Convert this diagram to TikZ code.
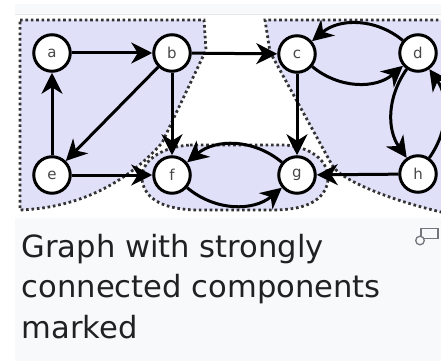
\documentclass[tikz,border=0pt]{standalone}
\usepackage{fontspec}
\setmainfont{DejaVu Sans}
\usetikzlibrary{arrows.meta}
\definecolor{scc}{RGB}{224,224,248}
\definecolor{pagebg}{RGB}{248,249,250}
\definecolor{captxt}{RGB}{32,33,34}
\definecolor{topline}{RGB}{230,232,236}
\definecolor{iconc}{RGB}{114,119,125}
\begin{document}
\begin{tikzpicture}[x=1pt,y=-1pt,
  vtx/.style={circle,draw=black,line width=3pt,fill=white,minimum size=36.5pt,inner sep=0pt,font=\fontsize{15}{15}\selectfont,text=black!72},
  edge/.style={line width=3pt,-{Stealth[length=21pt,width=21pt,inset=6.5pt]}},
  region/.style={fill=scc},
  border/.style={line width=2.8pt,dash pattern=on 2.6pt off 2.8pt,draw=black!80},
  captext/.style={anchor=base west,inner sep=0pt,text=captxt,font=\fontsize{30.6}{40}\selectfont}]
\useasboundingbox (0,0) rectangle (441,361);
\fill[white] (0,0) rectangle (441,361);
\fill[pagebg] (15,4) rectangle (441,361);
\fill[white] (15,15) rectangle (441,218);
\draw[topline,line width=1pt] (15,14.5) -- (441,14.5);
% SCC regions
\path[region] (20,20) -- (204,20) -- (206,50) -- (162,143) .. controls (120,190) and (70,208) .. (20,210) -- cycle;
\path[region] (265,20) -- (460,20) -- (460,214) -- (441,212) .. controls (390,200) and (340,180) .. (332,165) -- (270,52) -- cycle;
\path[region] (190,145) -- (285,145) .. controls (320,148) and (335,170) .. (325,190) .. controls (315,208) and (290,210) .. (270,210) -- (200,210) .. controls (165,210) and (145,200) .. (142,180) .. controls (140,162) and (160,147) .. (190,145) -- cycle;
\draw[border] (20,20) -- (204,20) -- (206,50) -- (162,143) .. controls (120,190) and (70,208) .. (20,210) -- cycle;
\draw[border] (460,20) -- (265,20) -- (270,52) -- (332,165) .. controls (340,180) and (390,200) .. (441,212) -- (460,214);
\draw[border] (190,145) -- (285,145) .. controls (320,148) and (335,170) .. (325,190) .. controls (315,208) and (290,210) .. (270,210) -- (200,210) .. controls (165,210) and (145,200) .. (142,180) .. controls (140,162) and (160,147) .. (190,145) -- cycle;
% vertices
\node[vtx] (a) at (52,53) {a};
\node[vtx] (b) at (172,53) {b};
\node[vtx] (c) at (297,54) {c};
\node[vtx] (d) at (418,53) {d};
\node[vtx] (e) at (52,175) {e};
\node[vtx] (f) at (172,175) {f};
\node[vtx] (g) at (297,175) {g};
\node[vtx] (h) at (418,174) {h};
% edges
\draw[edge] (a) -- (b);
\draw[edge] (b) -- (c);
\draw[edge] (b) -- (e);
\draw[edge] (b) -- (f);
\draw[edge] (e) -- (a);
\draw[edge] (e) -- (f);
\draw[edge] (c) -- (g);
\draw[edge] (h) -- (g);
\draw[edge] (c) to[bend right=40] (d);
\draw[edge] (d) to[bend right=40] (c);
\draw[edge] (f) to[bend right=40] (g);
\draw[edge] (g) to[bend right=40] (f);
\draw[edge] (d) to[bend right=35] (h);
\draw[edge] (h) to[bend right=35] (d);
% caption
\node[captext] (t1) at (21.5,257) {Graph with strongly};
\node[captext] (t2) at (21.5,297.5) {connected components};
\node[captext] (t3) at (21.5,338) {marked};
% enlarge icon
\draw[iconc,line width=1.3pt] (421,228.5) rectangle (438,238.5);
\draw[iconc,fill=pagebg,line width=1.3pt] (420,240.5) circle (4.3);
\end{tikzpicture}
\end{document}
